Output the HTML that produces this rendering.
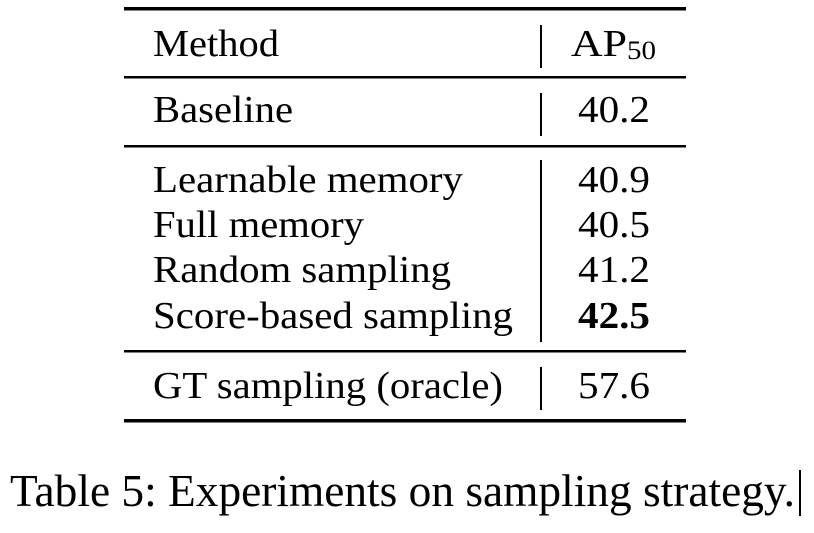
<!DOCTYPE html>
<html><head><style>body{margin:0;background:#fff}svg{display:block}text{font-family:"Liberation Serif","Times New Roman",serif}</style></head><body>
<svg width="814" height="533" xmlns="http://www.w3.org/2000/svg" fill="#000">
<rect x="124" y="7" width="562" height="3.5"/>
<rect x="124" y="76" width="562" height="2.5"/>
<rect x="124" y="145" width="562" height="2.5"/>
<rect x="124" y="350" width="562" height="2.5"/>
<rect x="124" y="419" width="562" height="3.5"/>
<rect x="540" y="25" width="2" height="43"/>
<rect x="540" y="93" width="2" height="43"/>
<rect x="540" y="160" width="2" height="182"/>
<rect x="540" y="367" width="2" height="43"/>
<g font-size="38">
<text x="153" y="56" textLength="126" lengthAdjust="spacingAndGlyphs">Method</text>
<text x="571" y="56" textLength="56" lengthAdjust="spacingAndGlyphs">AP</text>
<text x="627" y="59" font-size="26" textLength="29" lengthAdjust="spacingAndGlyphs">50</text>
<text x="153" y="122" textLength="140" lengthAdjust="spacingAndGlyphs">Baseline</text>
<text x="578" y="122" textLength="72" lengthAdjust="spacingAndGlyphs">40.2</text>
<text x="153" y="192" textLength="310" lengthAdjust="spacingAndGlyphs">Learnable memory</text>
<text x="578" y="192" textLength="72" lengthAdjust="spacingAndGlyphs">40.9</text>
<text x="153" y="237" textLength="211" lengthAdjust="spacingAndGlyphs">Full memory</text>
<text x="578" y="237" textLength="72" lengthAdjust="spacingAndGlyphs">40.5</text>
<text x="153" y="282" textLength="298" lengthAdjust="spacingAndGlyphs">Random sampling</text>
<text x="578" y="282" textLength="72" lengthAdjust="spacingAndGlyphs">41.2</text>
<text x="153" y="328" textLength="360" lengthAdjust="spacingAndGlyphs">Score-based sampling</text>
<text x="578" y="328" textLength="72" font-weight="bold" lengthAdjust="spacingAndGlyphs">42.5</text>
<text x="153" y="398" textLength="350" lengthAdjust="spacingAndGlyphs">GT sampling (oracle)</text>
<text x="578" y="398" textLength="72" lengthAdjust="spacingAndGlyphs">57.6</text>
</g>
<text x="10" y="506" font-size="46" textLength="785" lengthAdjust="spacingAndGlyphs">Table 5: Experiments on sampling strategy.</text>
<rect x="799" y="470" width="2" height="46"/>
</svg>
</body></html>
